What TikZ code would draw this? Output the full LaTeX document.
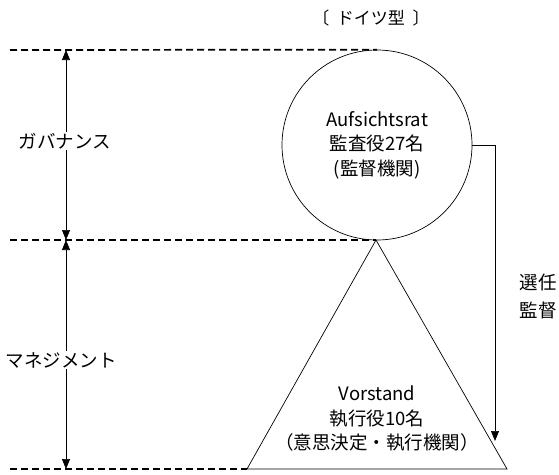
\documentclass[tikz,border=0pt]{standalone}
\usepackage{fontspec}
\setmainfont{Noto Sans CJK JP}
\usetikzlibrary{arrows.meta}
\begin{document}
\begin{tikzpicture}[x=1pt,y=-1pt,
  dline/.style={line width=1.7pt, dash pattern=on 7pt off 4pt},
  thin/.style={line width=0.7pt},
  dim/.style={thin, {Triangle[length=10pt,width=8pt]}-{Triangle[length=10pt,width=8pt]}},
  lbl/.style={font=\fontsize{18.5}{24.5}\selectfont, align=center, inner sep=1pt},
]
\useasboundingbox (0,0) rectangle (559,474);
\node[lbl, font=\fontsize{17}{24}\selectfont] (title) at (371,18) {〔\ \ ドイツ型\ \ 〕};
% supervisory board
\node[circle, draw, thin, minimum size=190pt, inner sep=0pt] (ar) at (377,145) {};
\node[lbl] (artext) at (377,145) {Aufsichtsrat\\監査役27名\\(監督機関)};
% management board triangle
\coordinate (apex) at (376,240);
\coordinate (bl) at (247,469);
\coordinate (br) at (507,469);
\draw[thin] (apex) -- (br) -- (bl) -- cycle;
\node[lbl] (vtext) at (377,419) {Vorstand\\執行役10名\\（意思決定・執行機関）};
% level lines
\coordinate (l1) at (10,50);
\coordinate (l2) at (10,240);
\coordinate (l3) at (10,469);
\draw[dline] (l1) -- (ar.north);
\draw[dline] (l2) -- (apex);
\draw[dline] (l3) -- (bl);
% dimension arrows
\coordinate (g1) at (66,50);
\coordinate (g2) at (66,240);
\coordinate (g3) at (66,469);
\draw[dim] (g2) -- (g1);
\draw[dim] (g2) -- (g3);
\node[lbl, fill=white] (gov) at (65,141) {ガバナンス};
\node[lbl, fill=white] (mgmt) at (61,360) {マネジメント};
% appointment / supervision connector
\coordinate (ctip) at (495,441);
\draw[thin, -{Triangle[length=10pt,width=8pt]}] (ar.east) -| (ctip);
\node[lbl, font=\fontsize{18.5}{28}\selectfont] (sel) at (538,296) {選任\\監督};
\end{tikzpicture}
\end{document}
